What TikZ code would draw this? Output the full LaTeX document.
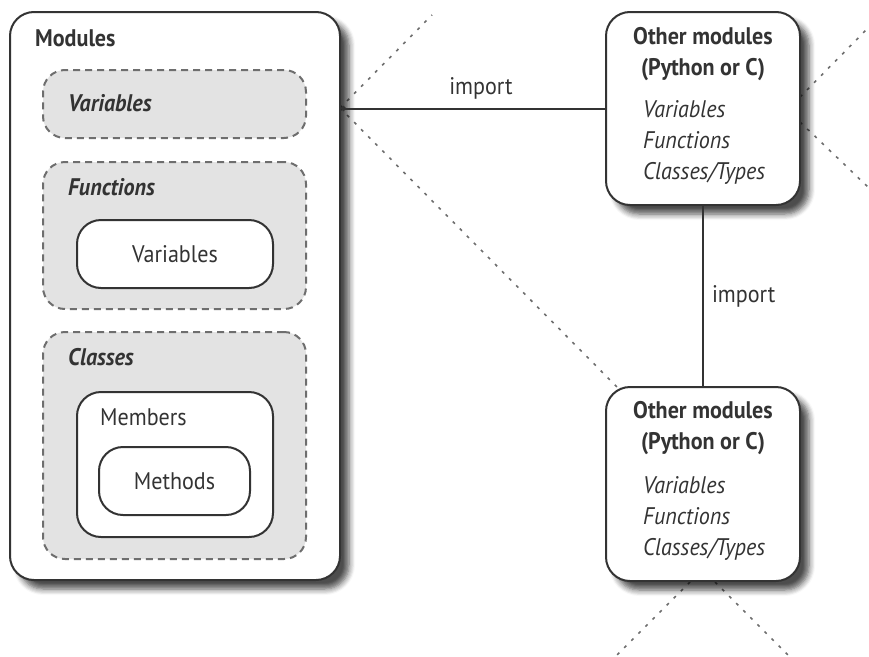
\documentclass[tikz,border=0pt]{standalone}
\usepackage{fontspec}
\setmainfont[FakeStretch=0.92]{PT Sans}
\usepackage{tikz}
\usetikzlibrary{arrows.meta, shadows.blur}
\definecolor{linegray}{RGB}{51,51,51}
\definecolor{dashgray}{RGB}{110,110,110}
\definecolor{boxfill}{RGB}{227,227,227}
\newcommand{\txtsize}{\fontsize{24}{31}\selectfont}
\tikzset{
    modbox/.style = {draw=linegray, line width=2pt, fill=white, rounded corners=24pt,
        blur shadow={shadow xshift=9pt, shadow yshift=-9pt, shadow blur radius=6pt, shadow blur steps=6, shadow opacity=70}},
    groupbox/.style = {draw=dashgray, line width=2pt, dash pattern=on 7pt off 5pt, fill=boxfill, rounded corners=22pt},
    innerbox/.style = {draw=linegray, line width=2pt, fill=white, rounded corners=24pt},
    txt/.style = {font=\txtsize, text=linegray, inner sep=0pt},
    link/.style = {draw=linegray, line width=2pt},
    guide/.style = {draw=dashgray, line width=1.6pt, dash pattern=on 3pt off 7pt}
}

\begin{document}
\begin{tikzpicture}[x=1pt, y=-1pt, line cap=butt, line join=round]
\useasboundingbox (0,0) rectangle (869,656);

% dotted guide lines (behind the boxes)
\coordinate (gmod) at (340,108);
\coordinate (gmodup) at (432,15);
\coordinate (gmoddown) at (618,388);
\coordinate (gtopa) at (800,97);
\coordinate (gtopaend) at (869,27);
\coordinate (gtopb) at (800,122);
\coordinate (gtopbend) at (869,188);
\coordinate (gbota) at (690,582);
\coordinate (gbotaend) at (616,656);
\coordinate (gbotb) at (715,582);
\coordinate (gbotbend) at (789,656);
\draw[guide] (gmod) -- (gmodup);
\draw[guide] (gmod) -- (gmoddown);
\draw[guide] (gtopa) -- (gtopaend);
\draw[guide] (gtopb) -- (gtopbend);
\draw[guide] (gbota) -- (gbotaend);
\draw[guide] (gbotb) -- (gbotbend);

% the module
\node[modbox, minimum width=330pt, minimum height=568pt] (modules) at (175,296) {};
\node[txt, anchor=west, font=\txtsize\bfseries] (modlabel) at (35,38) {Modules};

\node[groupbox, minimum width=263pt, minimum height=68pt] (vargroup) at (174.5,104) {};
\node[txt, anchor=west, font=\txtsize\bfseries\itshape] (varlabel) at (68,103) {Variables};

\node[groupbox, minimum width=263pt, minimum height=147pt] (fungroup) at (174.5,235.5) {};
\node[txt, anchor=west, font=\txtsize\bfseries\itshape] (funlabel) at (68,187) {Functions};
\node[innerbox, minimum width=196pt, minimum height=68pt] (locvars) at (175,254) {};
\node[txt] (locvarlabel) at (175,254) {Variables};

\node[groupbox, minimum width=263pt, minimum height=227pt] (clsgroup) at (174.5,445.5) {};
\node[txt, anchor=west, font=\txtsize\bfseries\itshape] (clslabel) at (68,357) {Classes};
\node[innerbox, minimum width=196pt, minimum height=145pt] (members) at (175,464.5) {};
\node[txt, anchor=west] (memlabel) at (100,417) {Members};
\node[innerbox, minimum width=151pt, minimum height=68pt] (methods) at (174.5,481) {};
\node[txt] (methlabel) at (174.5,481) {Methods};

% other modules
\node[modbox, minimum width=194pt, minimum height=193pt] (othertop) at (703,108.5) {};
\node[txt, align=center, font=\txtsize\bfseries] (othertoptitle) at (703,54) {Other modules\\(Python or C)};
\node[txt, align=left, anchor=west, font=\txtsize\itshape] (othertoplist) at (643,142) {Variables\\Functions\\Classes/Types};

\node[modbox, minimum width=194pt, minimum height=194pt] (otherbot) at (703,484) {};
\node[txt, align=center, font=\txtsize\bfseries] (otherbottitle) at (703,428) {Other modules\\(Python or C)};
\node[txt, align=left, anchor=west, font=\txtsize\itshape] (otherbotlist) at (643,518) {Variables\\Functions\\Classes/Types};

% imports
\draw[link, -{Circle[length=5pt]}] (othertop.west) -- (modules.east |- othertop.west)
    node[txt, pos=0.47, above=8pt] (importa) {import};
\draw[link] (othertop.south) -- (otherbot.north)
    node[txt, midway, right=8pt] (importb) {import};
\end{tikzpicture}
\end{document}
